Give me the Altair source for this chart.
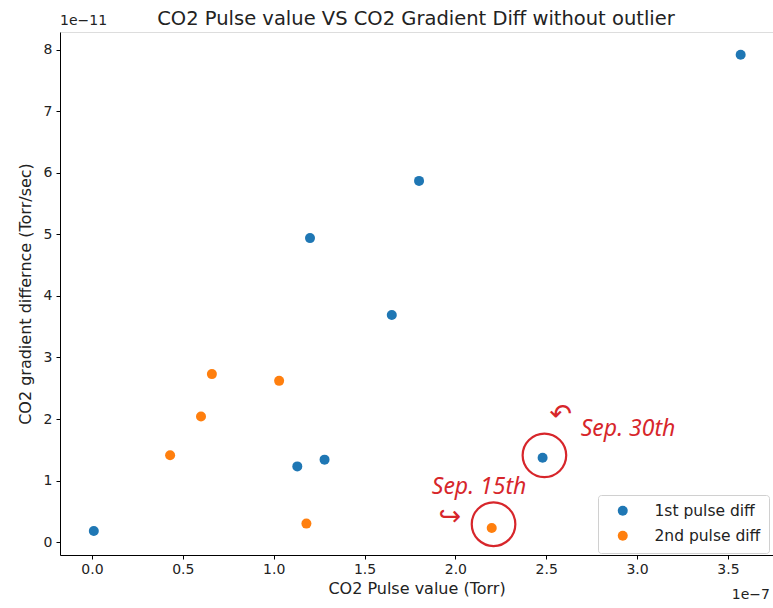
import altair as alt
import pandas as pd

# Data (x in 1e-7 Torr, y in 1e-11 Torr/sec)
first_x = [0.01, 1.13, 1.28, 1.20, 1.65, 1.80, 2.48, 3.57]
first_y = [0.18, 1.23, 1.34, 4.94, 3.69, 5.87, 1.37, 7.92]
second_x = [0.43, 0.60, 0.66, 1.03, 1.18, 2.20]
second_y = [1.41, 2.04, 2.73, 2.62, 0.30, 0.23]
series_names = ["1st pulse diff", "2nd pulse diff"]
series_colors = ["#1f77b4", "#ff7f0e"]

# annotation (hand-drawn notes) in data units
circle_x = [2.49, 2.21]
circle_y = [1.41, 0.29]
note_text = ["Sep. 30th", "Sep. 15th"]
note_x = [2.69, 1.87]
note_y = [1.83, 0.90]
arrow_text = ["↶", "↪"]
arrow_x = [2.58, 1.97]
arrow_y = [2.07, 0.40]

x_ticks = [0.0, 0.5, 1.0, 1.5, 2.0, 2.5, 3.0, 3.5]
y_ticks = [0, 1, 2, 3, 4, 5, 6, 7, 8]

title_text = "CO2 Pulse value VS CO2 Gradient Diff without outlier"

pts = pd.DataFrame(
    [{"x": a, "y": b, "series": series_names[0]} for a, b in zip(first_x, first_y)]
    + [{"x": a, "y": b, "series": series_names[1]} for a, b in zip(second_x, second_y)]
)
circles = pd.DataFrame({"x": circle_x, "y": circle_y})
notes = pd.DataFrame({"x": note_x, "y": note_y, "t": note_text})
arrows = pd.DataFrame({"x": arrow_x, "y": arrow_y, "t": arrow_text})

FONT = "DejaVu Sans"
xscale = alt.Scale(domain=[-0.176, 3.748], nice=False, zero=False)
yscale = alt.Scale(domain=[-0.21, 8.29], nice=False, zero=False)

xenc = alt.X(
    "x:Q", scale=xscale,
    axis=alt.Axis(values=x_ticks, format=".1f", title="CO2 Pulse value (Torr)",
                  grid=False, domainColor="black", tickColor="black", tickSize=4,
                  labelFontSize=14, titleFontSize=16, labelFont=FONT, titleFont=FONT,
                  labelColor="#222", titleColor="#222", titleFontWeight="normal",
                  labelPadding=3, titlePadding=4, labelFlush=False),
)
yenc = alt.Y(
    "y:Q", scale=yscale,
    axis=alt.Axis(values=y_ticks, format="d", title="CO2 gradient differnce (Torr/sec)",
                  grid=False, domainColor="black", tickColor="black", tickSize=4,
                  labelFontSize=14, titleFontSize=16, labelFont=FONT, titleFont=FONT,
                  labelColor="#222", titleColor="#222", titleFontWeight="normal",
                  labelPadding=4, titlePadding=10, labelFlush=False),
)

points = alt.Chart(pts).mark_circle(size=100, opacity=1).encode(
    x=xenc, y=yenc,
    color=alt.Color(
        "series:N",
        scale=alt.Scale(domain=series_names, range=series_colors),
        legend=alt.Legend(
            title=None, orient="none", legendX=538, legendY=463,
            symbolType="circle", symbolSize=100, labelFontSize=15.5, labelFont=FONT,
            labelColor="#222", fillColor="white", strokeColor="#d0d0d0",
            cornerRadius=3, padding=8, rowPadding=8, symbolOffset=9, labelOffset=24,
        ),
    ),
)

red = "#d7262b"
circ = alt.Chart(circles).mark_point(
    shape="circle", size=1900, filled=False, color=red, strokeWidth=2.2, opacity=1
).encode(x="x:Q", y="y:Q")

note = alt.Chart(notes).mark_text(
    align="left", baseline="middle", fontSize=23, font="Noto Sans",
    fontStyle="italic", color=red
).encode(x="x:Q", y="y:Q", text="t:N")

arrow = alt.Chart(arrows).mark_text(
    align="center", baseline="middle", fontSize=27, font=FONT, color=red
).encode(x="x:Q", y="y:Q", text="t:N")

exp_y = alt.Chart(pd.DataFrame({"t": ["1e−11"]})).mark_text(
    align="left", baseline="bottom", fontSize=14, font=FONT, color="#222"
).encode(x=alt.value(0), y=alt.value(-4), text="t:N")

exp_x = alt.Chart(pd.DataFrame({"t": ["1e−7"]})).mark_text(
    align="right", baseline="middle", fontSize=14, font=FONT, color="#222"
).encode(x=alt.value(710), y=alt.value(563), text="t:N")

title = alt.Chart(pd.DataFrame({"t": [title_text]})).mark_text(
    align="center", baseline="alphabetic", fontSize=19.5, font=FONT, color="#222"
).encode(x=alt.value(356), y=alt.value(-7), text="t:N")

chart = alt.layer(points, circ, note, arrow, exp_y, exp_x, title).properties(
    width=713, height=523,
    autosize=alt.AutoSizeParams(type="none"),
    padding={"left": 60, "top": 32, "right": 0, "bottom": 53},
).configure_view(stroke="black", strokeWidth=1).configure(background="white")

chart.save("out.html", embed_options={"renderer": "svg", "actions": False})
